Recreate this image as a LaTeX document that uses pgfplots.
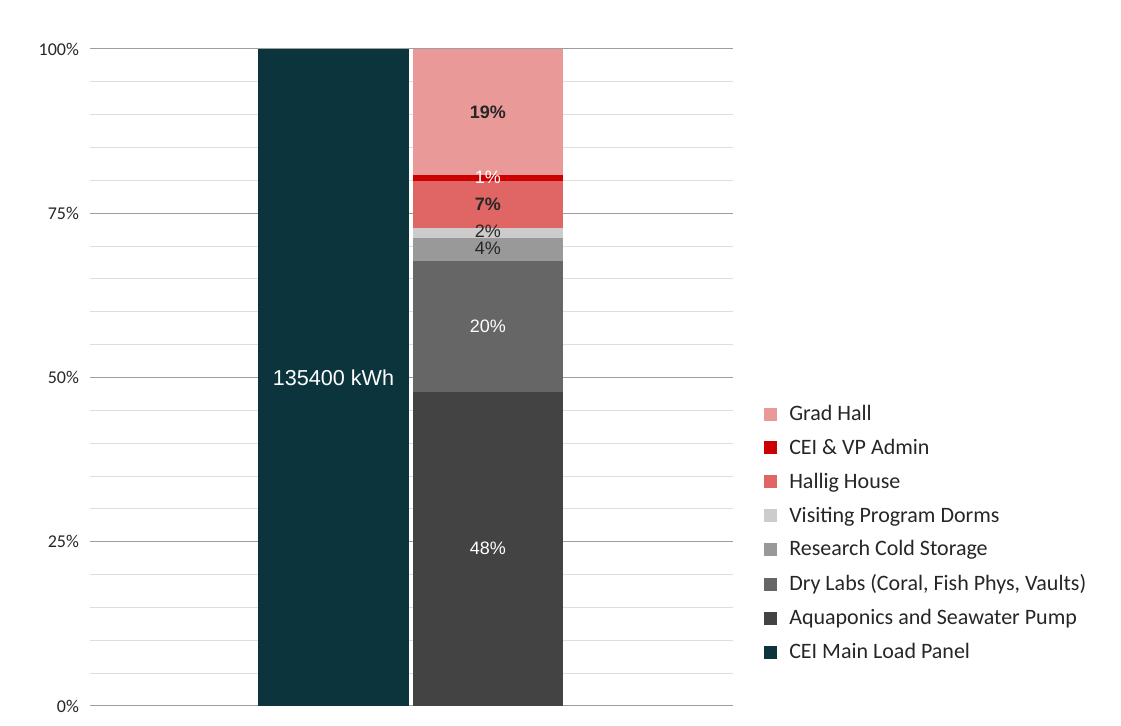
\documentclass[border=0pt]{standalone}
\usepackage{pgfplots}
\pgfplotsset{compat=1.18}
\usepackage{fontspec}
\setmainfont{Carlito}
\newfontfamily\labfont{Liberation Sans}
\definecolor{gradhall}{HTML}{EA9999}
\definecolor{ceivp}{HTML}{CC0000}
\definecolor{hallig}{HTML}{E06666}
\definecolor{visit}{HTML}{CCCCCC}
\definecolor{cold}{HTML}{999999}
\definecolor{dry}{HTML}{666666}
\definecolor{aqua}{HTML}{434343}
\definecolor{main}{HTML}{0C343D}
\tikzset{seglab/.style={font=\labfont\fontsize{9}{10}\selectfont}}
\begin{document}
\begin{tikzpicture}
\useasboundingbox (0,0) rectangle (560.5pt,363pt);
\begin{axis}[
  at={(45pt,10pt)}, anchor=south west,
  scale only axis, width=321.5pt, height=328.5pt,
  ybar stacked, bar width=0.977,
  xmin=-1.576, xmax=2.586, ymin=0, ymax=100,
  xtick=\empty,
  ytick={0,25,50,75,100},
  yticklabels={0\%,25\%,50\%,75\%,100\%},
  minor ytick={5,10,15,20,30,35,40,45,55,60,65,70,80,85,90,95},
  ymajorgrids, yminorgrids,
  major grid style={draw=black!38, line width=0.5pt},
  minor grid style={draw=black!13, line width=0.5pt},
  axis line style={draw=none},
  major tick style={draw=none}, minor tick style={draw=none},
  tick label style={font=\fontsize{9}{10}\selectfont, text=black!85},
  yticklabel style={xshift=-2pt},
  legend reversed,
  legend cell align=left,
  legend style={draw=none, fill=none, at={(1.048,0.465)}, anchor=north west,
    font=\fontsize{11}{13}\selectfont, text=black!85, row sep=3.85pt, inner sep=0pt,
    /tikz/every odd column/.append style={column sep=4pt}},
  legend image code/.code={\fill[#1] (0pt,-3.25pt) rectangle (6.5pt,3.25pt);},
  after end axis/.append code={
    \node[seglab, text=white] at (axis cs:0,49.9) {\fontsize{10.8}{12}\selectfont 135400 kWh};
    \node[seglab, text=white] at (axis cs:1,24.0) {48\%};
    \node[seglab, text=white] at (axis cs:1,57.8) {20\%};
    \node[seglab, text=black!85] at (axis cs:1,69.7) {4\%};
    \node[seglab, text=black!85] at (axis cs:1,72.3) {2\%};
    \node[seglab, text=black!85] at (axis cs:1,76.4) {\bfseries 7\%};
    \node[seglab, text=white] at (axis cs:1,80.4) {1\%};
    \node[seglab, text=black!85] at (axis cs:1,90.4) {\bfseries 19\%};
  },
]
\addplot[fill=main, draw=none] coordinates {(0,100) (1,0)};
\addlegendentry{CEI Main Load Panel}
\addplot[fill=aqua, draw=none] coordinates {(0,0) (1,47.8)};
\addlegendentry{Aquaponics and Seawater Pump}
\addplot[fill=dry, draw=none] coordinates {(0,0) (1,19.9)};
\addlegendentry{Dry Labs (Coral, Fish Phys, Vaults)}
\addplot[fill=cold, draw=none] coordinates {(0,0) (1,3.5)};
\addlegendentry{Research Cold Storage}
\addplot[fill=visit, draw=none] coordinates {(0,0) (1,1.6)};
\addlegendentry{Visiting Program Dorms}
\addplot[fill=hallig, draw=none] coordinates {(0,0) (1,7.1)};
\addlegendentry{Hallig House}
\addplot[fill=ceivp, draw=none] coordinates {(0,0) (1,0.9)};
\addlegendentry{CEI \& VP Admin}
\addplot[fill=gradhall, draw=none] coordinates {(0,0) (1,19.2)};
\addlegendentry{Grad Hall}
\end{axis}
\end{tikzpicture}
\end{document}
